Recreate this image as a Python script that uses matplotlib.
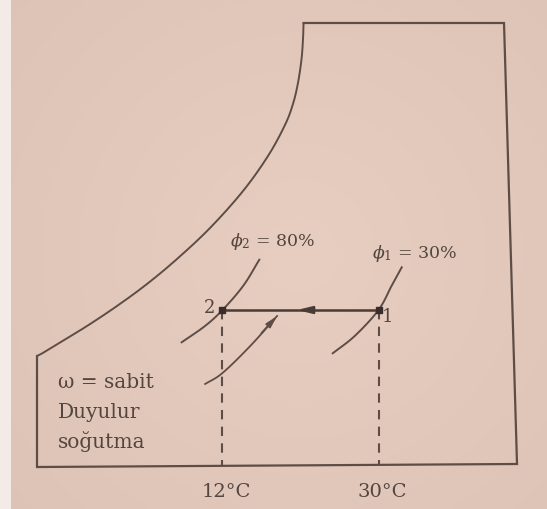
import matplotlib
matplotlib.use("Agg")
import numpy as np
import matplotlib.pyplot as plt
from matplotlib.patches import Rectangle

# ---- data (x: dry-bulb temperature in °C, y: humidity ratio, chart units) ----
sat_T = [-9.40, -8.83, -6.75, -3.63, -0.17, 3.29, 6.75, 10.56, 14.37, 17.25, 19.21, 20.13, 20.71, 21.12, 21.29, 21.35]
sat_w = [10.9, 11.15, 12.25, 13.9, 15.9, 18.1, 20.6, 23.7, 27.4, 30.9, 34.0, 36.1, 38.2, 40.6, 42.6, 44.1]

# outer frame of the chart (top, right and bottom edges, then left edge)
frame_T = [21.35, 44.48, 45.98, -9.40, -9.40]
frame_w = [44.2, 44.2, 0.1, -0.2, 10.9]

# states
state_T = [30.0, 12.0]        # state 1, state 2
state_w = [15.5, 15.5]
state_names = ["1", "2"]
temp_labels = ["30°C", "12°C"]
bottom_w = 0.0

# relative humidity lines through the states
phi1_T = [24.72, 27.29, 30.0, 31.52, 32.68]
phi1_w = [11.17, 12.93, 15.5, 17.93, 19.77]
phi2_T = [7.29, 9.98, 12.0, 14.40, 16.25]
phi2_w = [12.27, 13.9, 15.5, 17.93, 20.53]
phi_labels = [r"$\phi_1$ = 30%", r"$\phi_2$ = 80%"]

# small curved arrow below the process
arc_T = [10.0, 12.0, 15.2, 18.3]
arc_w = [8.1, 9.2, 11.9, 14.9]

note_lines = ["ω = sabit", "Duyulur", "soğutma"]

# ---- styling ----
LINE = "#5e4d47"
TEXT = "#54453f"
FONT = "DejaVu Serif"
plt.rcParams["mathtext.fontset"] = "dejavuserif"


def smooth(xs, ys, n=16):
    """Catmull-Rom curve through the read points (drawing aid only)."""
    p = np.column_stack([xs, ys]).astype(float)
    p = np.vstack([2 * p[0] - p[1], p, 2 * p[-1] - p[-2]])
    out = []
    t = np.linspace(0, 1, n, endpoint=False)[:, None]
    for i in range(1, len(p) - 2):
        p0, p1, p2, p3 = p[i - 1], p[i], p[i + 1], p[i + 2]
        seg = 0.5 * ((2 * p1) + (-p0 + p2) * t + (2 * p0 - 5 * p1 + 4 * p2 - p3) * t ** 2
                     + (-p0 + 3 * p1 - 3 * p2 + p3) * t ** 3)
        out.append(seg)
    out.append(p[-2][None, :])
    out = np.vstack(out)
    return out[:, 0], out[:, 1]


fig = plt.figure(figsize=(5.47, 5.10), dpi=100)
ax = fig.add_axes([0, 0, 1, 1])
xlim = (-13.67, 49.44)
ylim = (-4.4, 46.6)
ax.axis("off")

# paper background with a soft vignette (photo look)
yy, xx = np.mgrid[0:1:120j, 0:1:120j]
r = np.sqrt(((xx - 0.55) / 0.75) ** 2 + ((yy - 0.5) / 0.8) ** 2)
r = np.clip(r, 0, 1)
centre = np.array([231, 206, 193]) / 255
edge = np.array([221, 195, 182]) / 255
img = centre[None, None, :] * (1 - r[..., None]) + edge[None, None, :] * r[..., None]
ax.imshow(img, extent=(*xlim, *ylim), aspect="auto", zorder=0, interpolation="bicubic", origin="upper")
ax.set_xlim(*xlim)
ax.set_ylim(*ylim)

# light strip at the left edge of the photo
fig.patches.append(Rectangle((0, 0), 11 / 547, 1, transform=fig.transFigure,
                             facecolor="#f2ebe8", edgecolor="none", zorder=5))

# saturation curve and frame
ax.plot(*smooth(sat_T, sat_w), color=LINE, lw=1.4, solid_capstyle="round", zorder=2)
ax.plot(frame_T, frame_w, color=LINE, lw=1.6, solid_joinstyle="miter", zorder=2)

# phi lines
ax.plot(*smooth(phi1_T, phi1_w), color=LINE, lw=1.4, zorder=2)
ax.plot(*smooth(phi2_T, phi2_w), color=LINE, lw=1.4, zorder=2)

# dashed drops to the temperature axis
for T, w in zip(state_T, state_w):
    ax.plot([T, T], [w, bottom_w], color=LINE, lw=1.5, ls=(0, (4.5, 3.5)), zorder=2)

# process line 1 -> 2 with arrowhead in the middle
ax.plot(state_T, state_w, color="#4a3b36", lw=1.8, zorder=3)
mid_T = 0.5 * (state_T[0] + state_T[1])
ax.annotate("", xy=(mid_T - 0.4, state_w[0]), xytext=(mid_T + 1.6, state_w[0]),
            arrowprops=dict(arrowstyle="-|>,head_length=0.9,head_width=0.22",
                            color="#4a3b36", lw=1.6, shrinkA=0, shrinkB=0), zorder=3)
ax.plot(state_T, state_w, ls="none", marker="s", ms=4.5, color="#3a2d29", zorder=4)

# curved arrow
ax.plot(*smooth(arc_T, arc_w), color=LINE, lw=1.3, zorder=2)
ax.annotate("", xy=(arc_T[-1], arc_w[-1]), xytext=(arc_T[-2] + 1.3, arc_w[-2] + 1.3),
            arrowprops=dict(arrowstyle="-|>,head_length=0.7,head_width=0.18",
                            color=LINE, lw=1.3, shrinkA=0, shrinkB=0), zorder=2)

# state labels
ax.text(state_T[0] + 1.05, state_w[0] - 0.6, state_names[0], color=TEXT, family=FONT,
        fontsize=13, ha="center", va="center")
ax.text(state_T[1] - 0.87, state_w[1] + 0.3, state_names[1], color=TEXT, family=FONT,
        fontsize=13, ha="right", va="center")

# phi labels
ax.text(34.15, 21.2, phi_labels[0], color=TEXT, family=FONT, fontsize=12.5, ha="center", va="center")
ax.text(17.8, 22.4, phi_labels[1], color=TEXT, family=FONT, fontsize=12.5, ha="center", va="center")

# temperature labels
for T, lab in zip(state_T, temp_labels):
    ax.text(T + 0.4, -2.6, lab, color=TEXT, family=FONT, fontsize=14, ha="center", va="center")

# note
for i, line in enumerate(note_lines):
    ax.text(-6.98, 8.3 - 2.95 * i, line, color=TEXT, family=FONT, fontsize=14.5,
            ha="left", va="center")

fig.savefig("out.png", dpi=100)
